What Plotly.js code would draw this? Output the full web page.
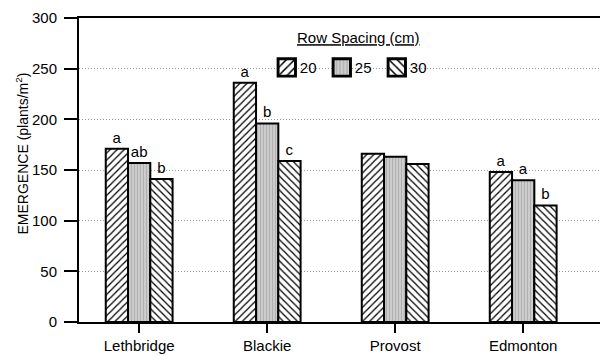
<!DOCTYPE html>
<html>
<head>
<meta charset="utf-8">
<script src="https://cdn.plot.ly/plotly-3.0.1.min.js"></script>
<style>html,body{margin:0;padding:0;background:#fff;}#chart{width:602px;height:356px;}</style>
</head>
<body>
<div id="chart"></div>
<script>
const sites = ["Lethbridge", "Blackie", "Provost", "Edmonton"];
const spacing20 = [171, 236, 166, 148];
const spacing25 = [157, 196, 163, 140];
const spacing30 = [141, 159, 156, 115];
const letters20 = ["a", "a", "", "a"];
const letters25 = ["ab", "b", "", "a"];
const letters30 = ["b", "c", "", "b"];
const seriesNames = ["20", "25", "30"];

const FAMILY = "Liberation Sans, Arial, sans-serif";
const textFont = {family: FAMILY, size: 15, color: "#000"};
const smallFont = {family: FAMILY, size: 14, color: "#000"};

function bar(name, y, text, pattern) {
  return {
    type: "bar", name: name, x: sites, y: y, text: text,
    textposition: "outside", textfont: textFont, cliponaxis: false,
    marker: {color: pattern.bgcolor, line: {color: "#000", width: 2}, pattern: pattern},
    hoverinfo: "none"
  };
}

const data = [
  bar(seriesNames[0], spacing20, letters20, {shape: "/", fgcolor: "#000", bgcolor: "#fff", size: 5, solidity: 0.25}),
  bar(seriesNames[1], spacing25, letters25, {shape: "|", fgcolor: "#b0b0b0", bgcolor: "#cfcfcf", size: 3, solidity: 0.4}),
  bar(seriesNames[2], spacing30, letters30, {shape: "\\", fgcolor: "#000", bgcolor: "#fff", size: 5, solidity: 0.25})
];

const layout = {
  width: 602, height: 356,
  margin: {l: 79, r: 2, t: 18, b: 34},
  paper_bgcolor: "#fff", plot_bgcolor: "#fff",
  font: textFont,
  barmode: "group", bargap: 0.478, bargroupgap: 0,
  showlegend: true,
  legend: {
    orientation: "h", x: 0.347, y: 0.955, xanchor: "left", yanchor: "top",
    bgcolor: "rgba(0,0,0,0)", font: textFont,
    title: {text: "<u>Row Spacing (cm)</u>", side: "top center", font: textFont},
    entrywidth: 10, entrywidthmode: "pixels", tracegroupgap: 0
  },
  xaxis: {
    range: [-0.47, 3.6], showline: true, linecolor: "#000", linewidth: 2, mirror: true,
    ticks: "outside", ticklen: 9, tickwidth: 2, tickcolor: "#000",
    showgrid: false, zeroline: false, tickfont: textFont
  },
  yaxis: {
    range: [0, 300], dtick: 50, showline: true, linecolor: "#000", linewidth: 2,
    ticks: "outside", ticklen: 13, tickwidth: 2, tickcolor: "#000",
    ticklabelstandoff: 4,
    showgrid: true, gridcolor: "#999", gridwidth: 1, griddash: "1px,2px",
    zeroline: false, tickfont: textFont
  },
  annotations: [{
    text: "EMERGENCE (plants/m<sup>2</sup>)", xref: "paper", yref: "paper",
    x: -0.109, y: 0.555, xanchor: "center", yanchor: "middle",
    textangle: -90, showarrow: false, font: smallFont
  }]
};

Plotly.newPlot("chart", data, layout, {displayModeBar: false, staticPlot: true}).then(function (gd) {
  // enlarge the legend swatches to match the reference's boxes
  gd.querySelectorAll(".legend .legendpoints path").forEach(function (p) {
    p.setAttribute("transform", "translate(27,0) scale(1.45)");
  });
  gd.querySelectorAll(".legend .legendtitletext").forEach(function (t) {
    t.setAttribute("transform", "translate(16,-8)");
  });
  gd.querySelectorAll(".legend .scrollbox, .legend").forEach(function (el) {
    el.removeAttribute("clip-path");
  });
});
</script>
</body>
</html>
